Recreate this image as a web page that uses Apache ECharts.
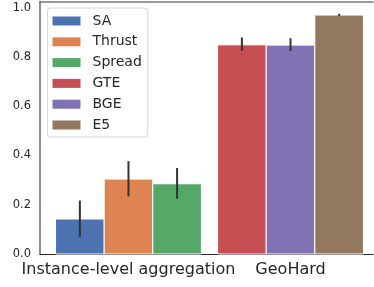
<!DOCTYPE html>
<html>
<head>
<meta charset="utf-8">
<script src="https://cdn.jsdelivr.net/npm/echarts@6/dist/echarts.min.js"></script>
<style>html,body{margin:0;padding:0;background:#fff;}#c{width:374px;height:287px;}</style>
</head>
<body>
<div id="c"></div>
<script>
// ---- data ----
const categories = ['Instance-level aggregation', 'GeoHard'];
const seriesNames = ['SA', 'Thrust', 'Spread', 'GTE', 'BGE', 'E5'];
const seriesGroup = [0, 0, 0, 1, 1, 1];
const values = [0.142, 0.304, 0.285, 0.849, 0.848, 0.970];
const errLow = [0.070, 0.234, 0.224, 0.825, 0.824, 0.966];
const errHigh = [0.217, 0.377, 0.349, 0.879, 0.876, 0.975];
const yTicks = [0, 0.2, 0.4, 0.6, 0.8, 1.0];
const colors = ['#4c72b0', '#dd8452', '#55a868', '#c44e52', '#8172b3', '#937860'];

const FONT = 'DejaVu Sans';
const BAR_W = 0.3;

const chart = echarts.init(document.getElementById('c'), null, {renderer: 'canvas'});

const series = seriesNames.map((name, i) => {
  const g = seriesGroup[i];
  const idxInGroup = seriesGroup.slice(0, i).filter(x => x === g).length;
  const nInGroup = seriesGroup.filter(x => x === g).length;
  const xc = g + (idxInGroup - (nInGroup - 1) / 2) * BAR_W;
  return {
    name: name,
    type: 'custom',
    itemStyle: {color: colors[i]},
    data: [[xc, values[i], errLow[i], errHigh[i]]],
    encode: {x: 0, y: [1, 2, 3]},
    renderItem: function (params, api) {
      const x = api.value(0), v = api.value(1), lo = api.value(2), hi = api.value(3);
      const p0 = api.coord([x - BAR_W / 2, v]);
      const p1 = api.coord([x + BAR_W / 2, 0]);
      const e0 = api.coord([x, lo]);
      const e1 = api.coord([x, hi]);
      return {
        type: 'group',
        children: [
          {type: 'rect', shape: {x: p0[0], y: p0[1], width: p1[0] - p0[0], height: p1[1] - p0[1]},
           style: {fill: colors[i], stroke: '#ffffff', lineWidth: 1}},
          {type: 'line', shape: {x1: e0[0], y1: e0[1], x2: e1[0], y2: e1[1]},
           style: {stroke: '#333333', lineWidth: 2}}
        ]
      };
    }
  };
});

chart.setOption({
  animation: false,
  backgroundColor: '#ffffff',
  textStyle: {fontFamily: FONT},
  grid: {left: 40, right: 1, top: 1.5, bottom: 33, containLabel: false},
  legend: {
    orient: 'vertical',
    left: 47.5, top: 8,
    data: seriesNames,
    icon: 'rect',
    itemWidth: 28, itemHeight: 9,
    itemGap: 4.8,
    padding: [5, 6, 4, 5],
    borderColor: '#d6d6d6', borderWidth: 1, borderRadius: 3,
    backgroundColor: '#ffffff',
    textStyle: {fontFamily: FONT, fontSize: 14, color: '#262626', lineHeight: 16, padding: [0, 0, 0, 7]}
  },
  xAxis: [{
    type: 'value', min: -0.546, max: 1.509,
    splitLine: {show: false},
    axisTick: {show: false},
    axisLine: {show: true, onZero: false, lineStyle: {color: '#262626', width: 1.2}},
    axisLabel: {
      customValues: [0, 1],
      formatter: function (v) { return categories[Math.round(v)]; },
      fontFamily: FONT, fontSize: 16, color: '#262626', margin: 8
    }
  }, {
    type: 'value', position: 'top', min: -0.546, max: 1.509,
    splitLine: {show: false}, axisTick: {show: false}, axisLabel: {show: false},
    axisLine: {show: true, onZero: false, lineStyle: {color: '#777777', width: 1.5}}
  }],
  yAxis: {
    type: 'value', min: 0, max: 1.025, interval: 0.2,
    splitLine: {show: false},
    axisTick: {show: false},
    axisLine: {show: true, onZero: false, lineStyle: {color: '#666666', width: 1.5}},
    axisLabel: {
      customValues: yTicks,
      formatter: function (v) { return v.toFixed(1); },
      fontFamily: FONT, fontSize: 11.5, color: '#262626', margin: 9
    }
  },
  series: series
});
</script>
</body>
</html>
